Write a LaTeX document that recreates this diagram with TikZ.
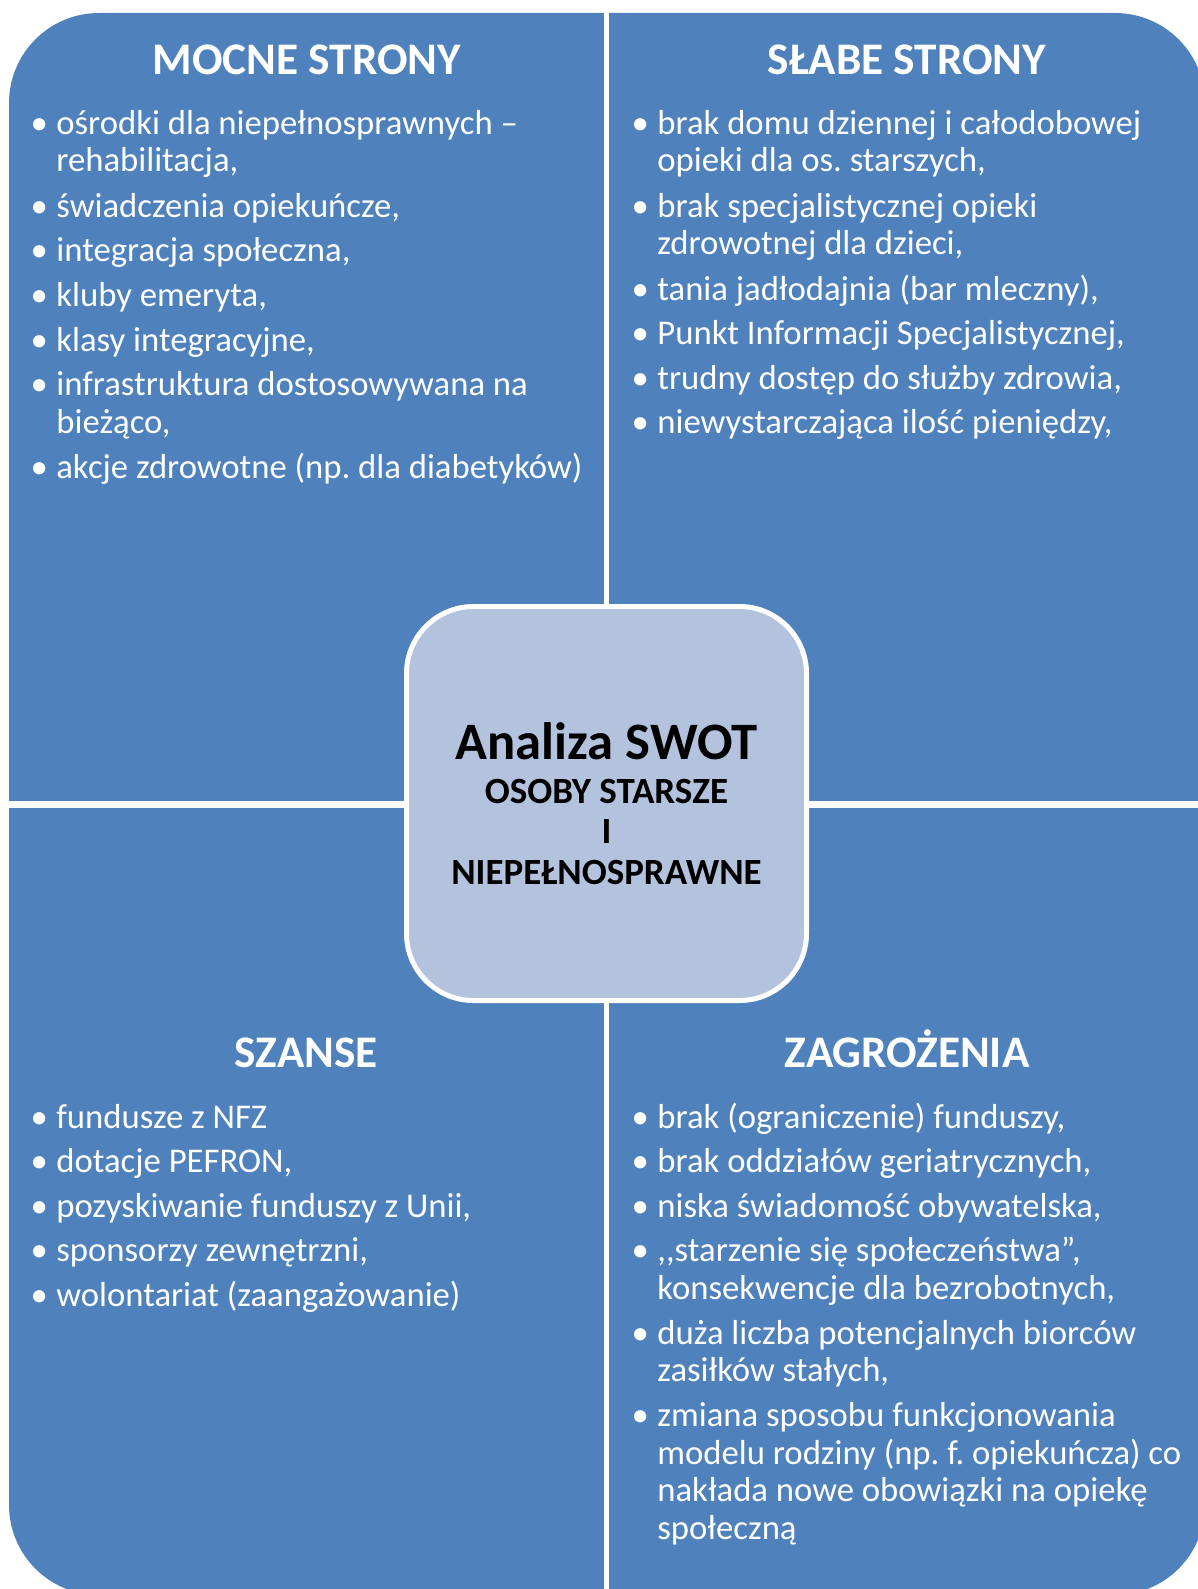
\documentclass[tikz,border=0pt]{standalone}
\usepackage{fontspec}
\setmainfont{Carlito}
\frenchspacing
\definecolor{quadblue}{HTML}{4F81BD}
\definecolor{centerfill}{HTML}{B3C2DD}
\newcommand\bodyfont{\fontsize{17.35pt}{18.75pt}\selectfont\frenchspacing}
\newcommand\titlefont{\fontsize{22.6pt}{26pt}\selectfont\bfseries}
\newcommand\bigfont{\fontsize{26.3pt}{30pt}\selectfont\bfseries}
\newcommand\subfont{\fontsize{18.5pt}{22pt}\selectfont\bfseries}
\newcommand\bul{\noindent\llap{\makebox[0pt][c]{•}\hspace{8.6pt}}}
\newcommand\itm[1]{\parbox[t]{290pt}{\raggedright\frenchspacing\bul #1}}
\tikzset{
  item/.style={anchor=base west, inner sep=0pt, text=white, font=\bodyfont},
  qtitle/.style={anchor=base, inner sep=0pt, text=white, font=\titlefont},
  ctext/.style={anchor=base, inner sep=0pt, text=black},
}
\begin{document}
\begin{tikzpicture}[x=0.5pt,y=-0.5pt]
\useasboundingbox (0,0) rectangle (1198,1589);
\clip (0,0) rectangle (1198,1589);
% outer shape
\fill[quadblue, rounded corners=45pt] (9,13) rectangle (1205,1595);
% white gaps
\fill[white] (604,0) rectangle (609,1600);
\fill[white] (0,801) rectangle (1210,807.5);
% centre box
\node[draw=white, line width=2.5pt, fill=centerfill, rounded corners=33.5pt,
      minimum width=200pt, minimum height=197pt, inner sep=0pt] (ctr) at (606.5,803.5) {};
\node[ctext, font=\bigfont] (c1) at (606.5,759) {Analiza SWOT};
\node[ctext, font=\subfont] (c2) at (606.5,803) {OSOBY STARSZE};
\node[ctext, font=\subfont] (c3) at (606.5,843) {I};
\node[ctext, font=\subfont] (c4) at (606.5,884) {NIEPEŁNOSPRAWNE};
% titles
\node[qtitle] (tS) at (307,74.5) {MOCNE STRONY};
\node[qtitle] (tW) at (907,74.5) {SŁABE STRONY};
\node[qtitle] (tO) at (306,1067.5) {SZANSE};
\node[qtitle] (tT) at (907,1067.5) {ZAGROŻENIA};
% strengths
\node[item] (s1) at (56,134.5) {\itm{ośrodki dla niepełnosprawnych –\\rehabilitacja,}};
\node[item] (s2) at (56,217.5) {\itm{świadczenia opiekuńcze,}};
\node[item] (s3) at (56,262) {\itm{integracja społeczna,}};
\node[item] (s4) at (56,306.5) {\itm{kluby emeryta,}};
\node[item] (s5) at (56,351) {\itm{klasy integracyjne,}};
\node[item] (s6) at (56,395.5) {\itm{infrastruktura dostosowywana na\\bieżąco,}};
\node[item] (s7) at (56,478) {\itm{akcje zdrowotne (np. dla diabetyków)}};
% weaknesses
\node[item] (w1) at (657,134.5) {\itm{brak domu dziennej i całodobowej\\opieki dla os. starszych,}};
\node[item] (w2) at (657,217.5) {\itm{brak specjalistycznej opieki\\zdrowotnej dla dzieci,}};
\node[item] (w3) at (657,300) {\itm{tania jadłodajnia (bar mleczny),}};
\node[item] (w4) at (657,344.5) {\itm{Punkt Informacji Specjalistycznej,}};
\node[item] (w5) at (657,389) {\itm{trudny dostęp do służby zdrowia,}};
\node[item] (w6) at (657,433.5) {\itm{niewystarczająca ilość pieniędzy,}};
% opportunities
\node[item] (o1) at (56,1128) {\itm{fundusze z NFZ}};
\node[item] (o2) at (56,1172.5) {\itm{dotacje PEFRON,}};
\node[item] (o3) at (56,1217) {\itm{pozyskiwanie funduszy z Unii,}};
\node[item] (o4) at (56,1261.5) {\itm{sponsorzy zewnętrzni,}};
\node[item] (o5) at (56,1306) {\itm{wolontariat (zaangażowanie)}};
% threats
\node[item] (z1) at (657,1128) {\itm{brak (ograniczenie) funduszy,}};
\node[item] (z2) at (657,1172.5) {\itm{brak oddziałów geriatrycznych,}};
\node[item] (z3) at (657,1217) {\itm{niska świadomość obywatelska,}};
\node[item] (z4) at (657,1261.5) {\itm{,{},starzenie się społeczeństwa”,\\konsekwencje dla bezrobotnych,}};
\node[item] (z5) at (657,1344) {\itm{duża liczba potencjalnych biorców\\zasiłków stałych,}};
\node[item] (z6) at (657,1426.5) {\itm{zmiana sposobu funkcjonowania\\modelu rodziny (np. f. opiekuńcza) co\\nakłada nowe obowiązki na opiekę\\społeczną}};
\end{tikzpicture}
\end{document}
